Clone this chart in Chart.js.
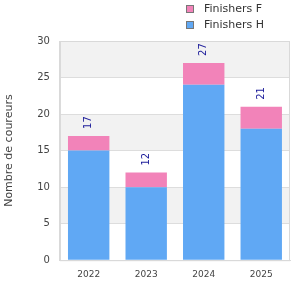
<!DOCTYPE html>
<html>
<head>
<meta charset="utf-8">
<script src="https://cdn.jsdelivr.net/npm/chart.js@4/dist/chart.umd.min.js"></script>
<style>
  html, body { margin: 0; padding: 0; background: #fff; }
  #wrap { position: relative; width: 300px; height: 300px; }
  #legende { position: absolute; left: 186px; top: 1px; font: 11px "DejaVu Sans", sans-serif; color: #333; }
  #legende div { height: 16px; line-height: 16px; white-space: nowrap; }
  #legende span { display: inline-block; width: 6px; height: 6px; border: 1px solid #777; margin-right: 10px; vertical-align: -1px; }
</style>
</head>
<body>
<div id="wrap">
  <canvas id="graphique" width="300" height="300"></canvas>
  <div id="legende"></div>
</div>
<script>
// données
const annees = ['2022', '2023', '2024', '2025'];
const finishersH = [15, 10, 24, 18];
const finishersF = [2, 2, 3, 3];
const totaux = [17, 12, 27, 21];
const ticksY = [0, 5, 10, 15, 20, 25, 30];

const bleu = '#60a8f4';
const rose = '#f283b9';

// légende en HTML (F en haut, H en dessous)
const legende = document.getElementById('legende');
[['Finishers F', rose], ['Finishers H', bleu]].forEach(([nom, couleur]) => {
  const ligne = document.createElement('div');
  ligne.innerHTML = `<span style="background:${couleur}"></span>${nom}`;
  legende.appendChild(ligne);
});

// bandes grises alternées derrière les barres + cadre
const bandes = {
  id: 'bandes',
  beforeDraw(chart) {
    const { ctx, chartArea, scales: { y } } = chart;
    ctx.save();
    ctx.fillStyle = '#f2f2f2';
    for (let i = 0; i < ticksY.length - 1; i++) {
      if (i % 2 === 0) continue;
      const haut = y.getPixelForValue(ticksY[i + 1]);
      const bas = y.getPixelForValue(ticksY[i]);
      ctx.fillRect(chartArea.left, haut, chartArea.right - chartArea.left, bas - haut);
    }
    ctx.restore();
  },
  afterDraw(chart) {
    const { ctx, chartArea: a } = chart;
    ctx.save();
    ctx.strokeStyle = '#d9d9d9';
    ctx.lineWidth = 1;
    ctx.strokeRect(a.left + 0.5, a.top + 0.5, a.right - a.left - 1, a.bottom - a.top);
    ctx.restore();
  }
};

// totaux écrits à la verticale au-dessus de chaque barre
const etiquettes = {
  id: 'etiquettes',
  afterDatasetsDraw(chart) {
    const { ctx, scales: { x, y } } = chart;
    ctx.save();
    ctx.font = '10px "DejaVu Sans", sans-serif';
    ctx.fillStyle = '#1a1a99';
    ctx.textAlign = 'left';
    ctx.textBaseline = 'middle';
    totaux.forEach((t, i) => {
      const px = x.getPixelForValue(i);
      const py = y.getPixelForValue(t) - 7;
      ctx.save();
      ctx.translate(px, py);
      ctx.rotate(-Math.PI / 2);
      ctx.fillText(String(t), 0, 0);
      ctx.restore();
    });
    ctx.restore();
  }
};

new Chart(document.getElementById('graphique').getContext('2d'), {
  type: 'bar',
  data: {
    labels: annees,
    datasets: [
      { label: 'Finishers H', data: finishersH, backgroundColor: bleu },
      { label: 'Finishers F', data: finishersF, backgroundColor: rose }
    ]
  },
  options: {
    responsive: false,
    animation: false,
    layout: { padding: { top: 41, right: 10, bottom: 11, left: 0 } },
    plugins: {
      legend: { display: false },
      tooltip: { enabled: false }
    },
    scales: {
      x: {
        stacked: true,
        grid: { display: false, drawTicks: false },
        border: { color: '#d9d9d9' },
        ticks: { color: '#444', font: { family: 'DejaVu Sans', size: 9 }, padding: 9 }
      },
      y: {
        stacked: true,
        min: 0,
        max: 30,
        grid: { color: '#dddddd', drawTicks: false },
        border: { color: '#d9d9d9' },
        ticks: { stepSize: 5, color: '#444', font: { family: 'DejaVu Sans', size: 10 }, padding: 10 },
        title: { display: true, text: 'Nombre de coureurs', color: '#444', font: { family: 'DejaVu Sans', size: 11 }, padding: { top: 3, bottom: 11 } }
      }
    }
  },
  plugins: [bandes, etiquettes]
});
</script>
</body>
</html>
